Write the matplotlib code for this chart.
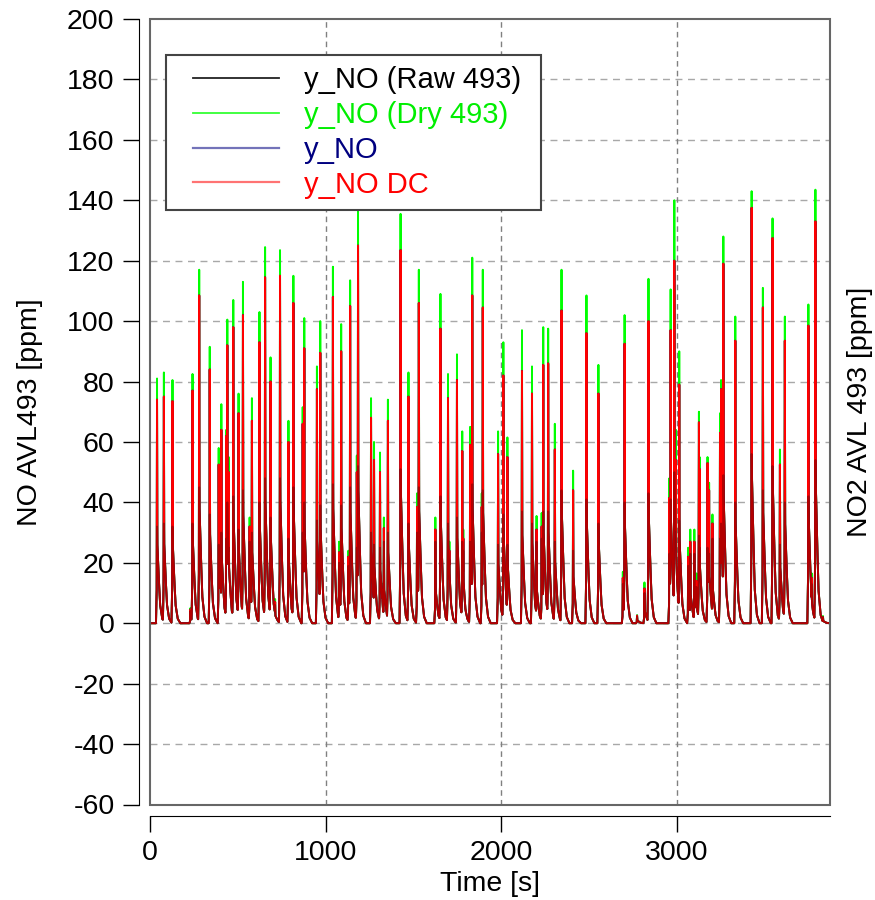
import numpy as np
import matplotlib.pyplot as plt
from matplotlib.patches import Rectangle
from matplotlib.lines import Line2D
from matplotlib.legend_handler import HandlerLine2D

plt.rcParams['font.family'] = ['Liberation Sans', 'DejaVu Sans']
plt.rcParams['axes.unicode_minus'] = False

# peak read-off: time [s], dry peak, DC peak, raw (dark part) peak  [ppm]
peak_t = [40, 79, 128, 230, 242, 280, 340, 391, 402, 406, 434, 440, 448, 474, 504,
          529, 567, 580, 623, 655, 686, 712, 740, 788, 816, 869, 878, 950, 969, 1041,
          1076, 1088, 1129, 1139, 1177, 1184, 1258, 1275, 1309, 1322, 1331, 1354, 1426,
          1471, 1520, 1530, 1624, 1653, 1696, 1704, 1747, 1777, 1783, 1822, 1834, 1888,
          1894, 1981, 2011, 2034, 2117, 2174, 2200, 2229, 2238, 2266, 2304, 2342, 2408,
          2484, 2552, 2691, 2701, 2772, 2814, 2837, 2956, 2963, 2984, 2993, 3012, 3063,
          3075, 3098, 3110, 3124, 3128, 3173, 3182, 3201, 3244, 3250, 3263, 3331, 3424,
          3488, 3543, 3585, 3613, 3747, 3766, 3787, 3795, 3830]
peak_dry = [81, 83, 80.5, 5, 82.5, 117, 91.5, 58, 32, 72.5, 64, 100.5, 55, 107, 76,
            113, 35, 74.5, 103, 124.5, 88, 8, 123.5, 67, 115, 71.5, 101, 85, 100, 118,
            27, 99, 24, 113.5, 55.5, 138, 74.5, 60, 56.5, 13, 35, 74, 135.5,
            83, 43, 117, 35, 109, 82.5, 27, 89, 63.5, 31, 65, 121, 43,
            117, 63.5, 93, 61.5, 97, 85, 35.5, 36.5, 98, 97.5, 66, 117, 50.5,
            108.5, 85.5, 17, 102, 2.7, 13.5, 114, 48, 110.5, 140, 64, 90, 25,
            31, 31, 16.5, 70, 55, 55, 46.5, 36, 69.5, 80.5, 128, 101.5, 143,
            111, 134, 57.5, 101.5, 105.5, 16.5, 143.5, 16.5, 2.4]
peak_dc = [74, 75, 73.5, 4.5, 77, 108.5, 84, 52.5, 29, 64, 62, 92, 50, 98, 69.5,
           102, 32, 67, 93, 114.5, 80, 7, 115, 60, 106, 66, 91, 77.5, 89.5, 108,
           23.5, 90, 22, 105, 50, 125, 68, 54, 50, 11, 31.5, 67, 123.5,
           75, 38.5, 106, 31, 97.5, 74.5, 24, 80.5, 57, 28, 59, 108.5, 38.5,
           104.5, 56, 82, 55, 83.5, 76, 31, 32, 85.5, 86, 57.5, 103.5, 44,
           96, 76, 15, 92.5, 2.5, 11.5, 100, 41.5, 97, 120, 54, 79, 22,
           27, 27, 14, 66.5, 51, 53, 44, 33, 63, 77.5, 119, 93.5, 137.5,
           104.5, 127.5, 52.5, 93.5, 98.5, 15, 133, 15, 2]
peak_raw = [32, 33, 32, 4, 33, 45, 36, 26, 25, 30, 28, 40, 25, 42, 31,
            44, 27, 30, 40, 48, 35, 6, 48, 28, 45, 30, 40, 34, 39, 46,
            20, 39, 19, 45, 25, 52, 30, 26, 25, 10, 27, 30, 51,
            33, 30, 45, 27, 42, 33, 21, 35, 27, 24, 27, 46, 30,
            44, 26, 36, 26, 37, 33, 27, 28, 37, 37, 27, 44, 24,
            41, 33, 13, 40, 2.3, 10, 43, 23, 41, 50, 27, 34, 19,
            23, 23, 12, 29, 25, 25, 23, 28, 28, 33, 49, 40, 56,
            44, 52, 26, 40, 42, 13, 54, 13, 2]

pulse_dt = [-6, -2, 0, 2, 5, 10, 18, 30, 45]
pulse_f = [0, 0.15, 1, 0.35, 0.3, 0.2, 0.08, 0.02, 0]

t = np.arange(0, 3871, 1.0)


def build(tops, base):
    y = np.zeros_like(t)
    for tp, top, b in zip(peak_t, tops, base):
        v = np.array(pulse_f) * b
        v[2] = top
        y = np.maximum(y, np.interp(t, tp + np.array(pulse_dt), v, left=0, right=0))
    return y


y_dry = build(peak_dry, peak_dc)
y_dc = build(peak_dc, peak_dc)
y_no = y_dc
y_raw = build(peak_raw, peak_dc)

fig = plt.figure(figsize=(8.75, 9), dpi=100)
ax = fig.add_axes([150/875, 1-804.5/900, 680/875, 785.5/900])

ax.plot(t, y_dry, color='#00ff00', lw=1.4)
ax.plot(t, y_no, color='#000080', lw=1.4)
ax.plot(t, y_dc, color='#ff0000', lw=1.4)
ax.plot(t, y_raw, color='black', lw=1.4, alpha=0.3)

ax.set_xlim(0, 3870)
ax.set_ylim(-60, 200)
ax.set_xticks([0, 1000, 2000, 3000])
ax.set_yticks(np.arange(-60, 201, 20))
ax.tick_params(labelsize=20.5, length=11.5, width=1, direction='out', pad=6)

for y in range(-40, 200, 20):
    ax.axhline(y, color='#a8a8a8', lw=1, ls=(0, (5, 4)), zorder=0)
for x in [1000, 2000, 3000]:
    ax.axvline(x, color='#808080', lw=1, ls=(0, (4, 3)), zorder=0)

for s in ['top', 'right']:
    ax.spines[s].set_visible(False)
ax.spines['left'].set_position(('outward', 8))
ax.spines['bottom'].set_position(('outward', 8))
ax.add_patch(Rectangle((0, 0), 1, 1, transform=ax.transAxes, fill=False,
                       ec='#666666', lw=1.5, clip_on=False, zorder=5))

ax.set_xlabel('Time [s]', fontsize=20.5, labelpad=4)
ax.set_ylabel('NO AVL493 [ppm]', fontsize=20.5, labelpad=17)

ax2 = ax.twinx()
ax2.set_yticks([])
for s in ax2.spines.values():
    s.set_visible(False)
ax2.set_ylabel('NO2 AVL 493 [ppm]', fontsize=20.5, labelpad=12)

h1 = Line2D([], [], color='#222222', lw=1.3)
h2 = Line2D([], [], color='#00ff00', lw=1.3, alpha=0.8)
h3 = Line2D([], [], color='#000080', lw=1.6, alpha=0.55)
h4 = Line2D([], [], color='#ff0000', lw=1.6, alpha=0.55)
leg = ax2.legend([h1, h2, h3, h4], ['y_NO (Raw 493) ', 'y_NO (Dry 493)', 'y_NO', 'y_NO DC'],
                 loc='upper left', bbox_to_anchor=(0.024, 0.9545), borderaxespad=0,
                 fontsize=21, fancybox=False, framealpha=1, edgecolor='#444444',
                 handlelength=3.45, handletextpad=0.86, labelspacing=0.23, borderpad=0.4,
                 handler_map={Line2D: HandlerLine2D(xpad=0.52)})
leg.get_frame().set_linewidth(1.5)
for txt, c in zip(leg.get_texts(), ['black', '#00ee00', '#000080', '#ff0000']):
    txt.set_color(c)

fig.savefig('out.png', dpi=100)
